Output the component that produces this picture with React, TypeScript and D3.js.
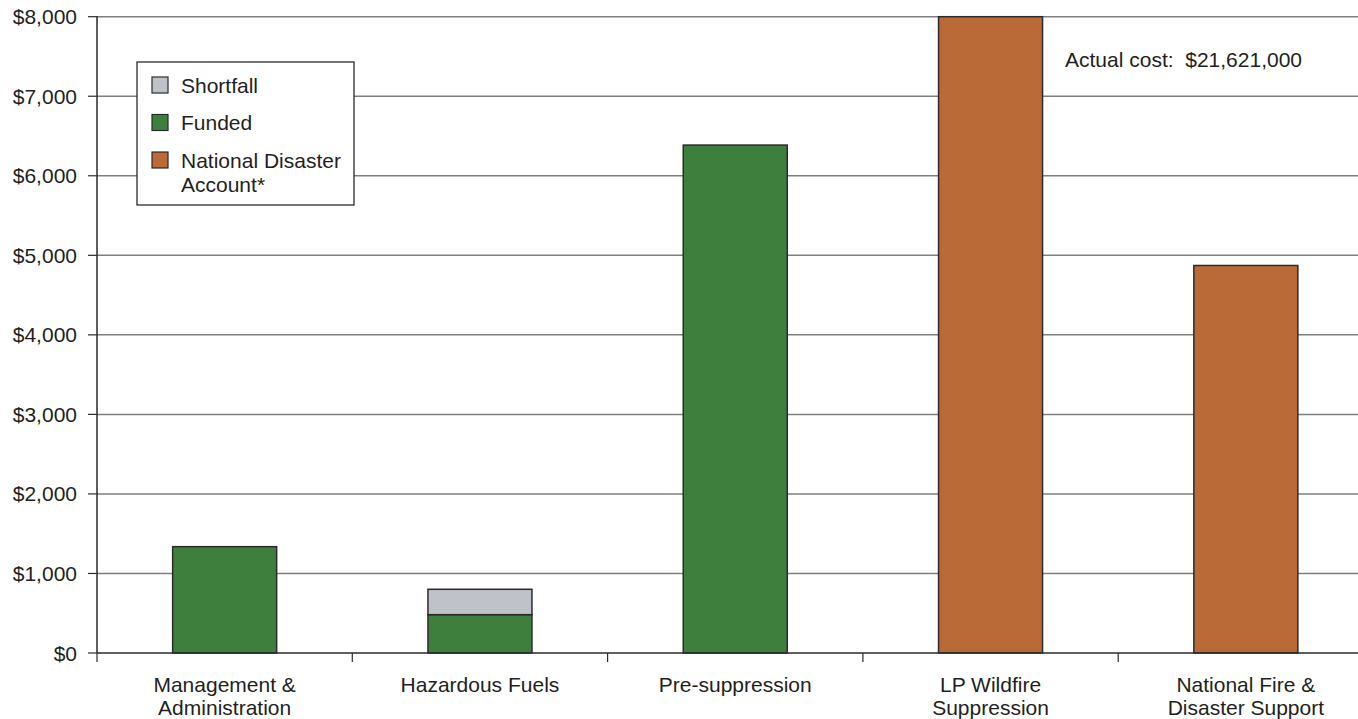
import React from "react";
import * as d3 from "d3";

// Program cost categories (thousands of dollars)
const categories = [
  ["Management &", "Administration"],
  ["Hazardous Fuels"],
  ["Pre-suppression"],
  ["LP Wildfire", "Suppression"],
  ["National Fire &", "Disaster Support"],
];
const funded = [1337, 482, 6386, 0, 0];
const shortfall = [0, 319, 0, 0, 0];
const nationalDisaster = [0, 0, 0, 21621, 4872];
const yTicks = [0, 1000, 2000, 3000, 4000, 5000, 6000, 7000, 8000];
const legendItems = [
  { label: ["Shortfall"], color: "#bfc3c9" },
  { label: ["Funded"], color: "#3e7f3e" },
  { label: ["National Disaster", "Account*"], color: "#b96a36" },
];
const annotation = "Actual cost:  $21,621,000";

const W = 1358;
const H = 719;
const FONT = "'Liberation Sans', Arial, sans-serif";
const TEXT = "#231f20";

export default function App() {
  const left = 97;
  const bandW = 255.3;
  const x = d3
    .scaleBand<number>()
    .domain(categories.map((_, i) => i))
    .range([left, left + bandW * categories.length])
    .paddingInner(0)
    .paddingOuter(0);
  const y = d3.scaleLinear().domain([0, 8000]).range([653, 16.7]);
  const barW = 104;
  const fmt = d3.format("$,");

  const clampY = (v: number) => y(Math.min(v, 8000));

  const bars: React.ReactNode[] = [];
  categories.forEach((_, i) => {
    const bx = (x(i) as number) + x.bandwidth() / 2 - barW / 2;
    const stack = [
      { v0: 0, v1: funded[i], color: legendItems[1].color },
      { v0: funded[i], v1: funded[i] + shortfall[i], color: legendItems[0].color },
      { v0: 0, v1: nationalDisaster[i], color: legendItems[2].color },
    ];
    stack.forEach((s, k) => {
      if (s.v1 - s.v0 <= 0) return;
      const yTop = clampY(s.v1);
      const yBot = clampY(s.v0);
      bars.push(
        <rect
          key={`b${i}-${k}`}
          x={bx}
          y={yTop}
          width={barW}
          height={yBot - yTop}
          fill={s.color}
          stroke="#2b2b2b"
          strokeWidth={1.5}
        />
      );
    });
  });

  return (
    <svg
      width={W}
      height={H}
      style={{ position: "absolute", left: 0, top: 0, background: "#fff" }}
      fontFamily={FONT}
    >
      {/* horizontal gridlines */}
      {yTicks.slice(1).map((t) => (
        <line
          key={`g${t}`}
          x1={left}
          x2={W}
          y1={y(t)}
          y2={y(t)}
          stroke="#7f7f7f"
          strokeWidth={1.5}
        />
      ))}
      {/* y tick marks and labels */}
      {yTicks.map((t) => (
        <g key={`t${t}`}>
          <line x1={88} x2={left} y1={y(t)} y2={y(t)} stroke="#2b2b2b" strokeWidth={1.2} />
          <text
            x={77}
            y={y(t) + 7.5}
            textAnchor="end"
            fontSize={21}
            fill={TEXT}
          >
            {fmt(t)}
          </text>
        </g>
      ))}

      {bars}

      {/* axes */}
      <line x1={left} x2={left} y1={16} y2={653} stroke="#2b2b2b" strokeWidth={1.5} />
      <line x1={left} x2={W} y1={653} y2={653} stroke="#2b2b2b" strokeWidth={1.5} />
      {categories.map((_, i) => (
        <line
          key={`xt${i}`}
          x1={(x(i) as number)}
          x2={(x(i) as number)}
          y1={653}
          y2={662}
          stroke="#2b2b2b"
          strokeWidth={1.2}
        />
      ))}

      {/* category labels */}
      {categories.map((lines, i) => (
        <text
          key={`c${i}`}
          x={(x(i) as number) + x.bandwidth() / 2}
          textAnchor="middle"
          fontSize={21}
          fill={TEXT}
        >
          {lines.map((l, j) => (
            <tspan key={j} x={(x(i) as number) + x.bandwidth() / 2} y={692 + j * 23}>
              {l}
            </tspan>
          ))}
        </text>
      ))}

      {/* annotation for the clipped bar */}
      <text x={1065} y={66.5} fontSize={21} fill={TEXT} xmlSpace="preserve">
        {annotation}
      </text>

      {/* legend */}
      <rect x={137} y={62} width={217} height={143} fill="#fff" stroke="#2b2b2b" strokeWidth={1.3} />
      {legendItems.map((item, i) => {
        const sy = [77, 114.5, 152][i];
        return (
          <g key={`l${i}`}>
            <rect x={152} y={sy} width={16} height={16} fill={item.color} stroke="#2b2b2b" strokeWidth={1.2} />
            {item.label.map((l, j) => (
              <text key={j} x={181} y={sy + 15.5 + j * 24.5} fontSize={21} fill={TEXT}>
                {l}
              </text>
            ))}
          </g>
        );
      })}
    </svg>
  );
}
